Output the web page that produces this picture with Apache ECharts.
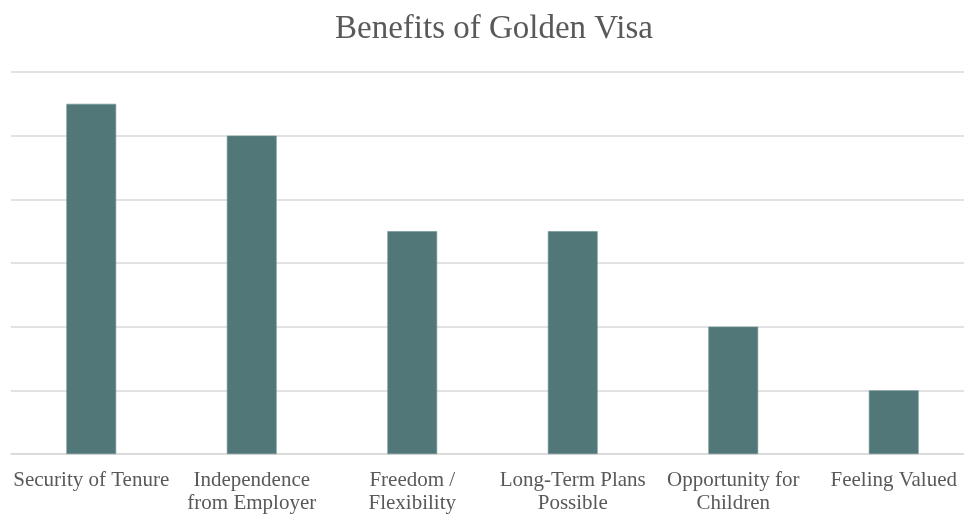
<!DOCTYPE html>
<html>
<head>
<meta charset="utf-8">
<style>
  html, body { margin: 0; padding: 0; background: #ffffff; overflow: hidden; }
  #chart { width: 975px; height: 515px; }
</style>
<script src="https://cdn.jsdelivr.net/npm/echarts@6/dist/echarts.min.js"></script>
</head>
<body>
<div id="chart"></div>
<script>
// Benefits reported by respondents
const categories = [
  'Security of Tenure',
  'Independence\nfrom Employer',
  'Freedom /\nFlexibility',
  'Long-Term Plans\nPossible',
  'Opportunity for\nChildren',
  'Feeling Valued'
];
const responses = [11, 10, 7, 7, 4, 2];

const chart = echarts.init(document.getElementById('chart'), null, { renderer: 'canvas' });

chart.setOption({
  animation: false,
  backgroundColor: '#ffffff',
  textStyle: { fontFamily: 'Liberation Serif' },
  title: {
    text: 'Benefits of Golden Visa',
    left: 330,
    top: 8,
    textStyle: {
      fontFamily: 'Liberation Serif',
      fontSize: 33,
      fontWeight: 'normal',
      color: '#595959'
    }
  },
  grid: { left: 11, right: 1, top: 72, bottom: 60, containLabel: false },
  xAxis: {
    type: 'category',
    data: categories,
    axisLine: { show: true, lineStyle: { color: '#d9d9d9', width: 1.5 } },
    axisTick: { show: false },
    axisLabel: {
      interval: 0,
      margin: 15,
      fontFamily: 'Liberation Serif',
      fontSize: 21,
      lineHeight: 23,
      color: '#595959'
    }
  },
  yAxis: {
    type: 'value',
    min: 0,
    max: 12,
    interval: 2,
    axisLine: { show: false },
    axisTick: { show: false },
    axisLabel: { show: false },
    splitLine: { lineStyle: { color: '#d9d9d9', width: 1.5 } }
  },
  series: [{
    type: 'bar',
    data: responses,
    barWidth: '31%',
    itemStyle: {
      color: '#527779',
      borderColor: '#6f9092',
      borderWidth: 0.6
    }
  }]
});
</script>
</body>
</html>
